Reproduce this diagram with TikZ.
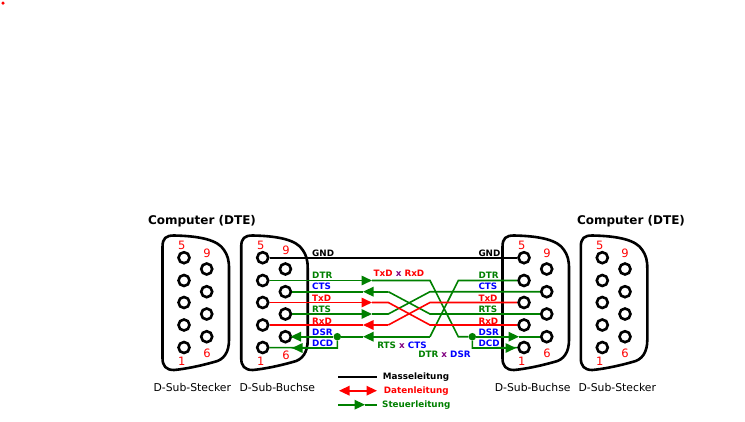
\documentclass[tikz,border=0pt]{standalone}
\usepackage{fontspec}
\setmainfont{DejaVu Sans}
\usetikzlibrary{arrows.meta, positioning, calc}
\definecolor{ctlgreen}{RGB}{0,128,0}
\definecolor{xpurple}{RGB}{128,0,128}
\tikzset{
    pinhole/.style={circle, draw=black, fill=white, line width=2.6pt, minimum size=11pt, inner sep=0pt},
    shell/.style={draw=black, line width=2.6pt, line join=round},
    pinnum/.style={text=red, font=\fontsize{11.5}{13}\selectfont, inner sep=0pt},
    sig/.style={font=\bfseries\fontsize{8.8}{10}\selectfont, inner sep=0pt},
    title/.style={font=\bfseries\fontsize{12}{14}\selectfont, inner sep=0pt},
    captext/.style={font=\fontsize{10.8}{12}\selectfont, inner sep=0pt},
    ground/.style={draw=black, line width=1.6pt},
    ctl/.style={draw=ctlgreen, line width=1.6pt},
    dat/.style={draw=red, line width=1.6pt},
    tipctl/.style={ctl, -{Triangle[length=10.5pt,width=9.5pt,fill=ctlgreen]}},
    tipdat/.style={dat, -{Triangle[length=10.5pt,width=9.5pt,fill=red]}},
    junction/.style={circle, fill=ctlgreen, minimum size=7.5pt, inner sep=0pt}
}
\begin{document}
\begin{tikzpicture}[x=1pt, y=-1pt]
    \useasboundingbox (0,0) rectangle (745,421);
    \node[circle, fill=red, minimum size=3.5pt, inner sep=0pt] (speck) at (3,3) {};

    % the four connector shells
    \foreach \c/\dx in {a/0, b/78.7, c/340, d/418.3} {
        \begin{scope}[xshift=\dx]
            \draw[shell] (162.5,247) .. controls (162.5,238) and (166,235.5) .. (174,235.5)
                .. controls (200,236) and (218,240) .. (224,250)
                .. controls (227.5,255) and (229,260) .. (229,268)
                -- (229,340)
                .. controls (229,352) and (224,360) .. (214,362)
                .. controls (200,366) and (185,369) .. (174,370)
                .. controls (166,370) and (162.5,366) .. (162.5,358) -- cycle;
        \end{scope}
    }

    % pins, left row 5..1 and right row 9..6
    \foreach \c/\dx in {a/0, b/78.7, c/340, d/418.3} {
        \foreach \n/\y in {5/257.7, 4/280.5, 3/302.5, 2/325, 1/347.5}
            \node[pinhole] (\c\n) at (184+\dx,\y) {};
        \foreach \n/\y in {9/269, 8/291.7, 7/314, 6/336.7}
            \node[pinhole] (\c\n) at (206.7+\dx,\y) {};
    }

    % pin numbers
    \foreach \c/\dx/\ytop/\ybot in {a/0/253.7/353, b/79/250.7/355.5, c/340/253.7/353, d/418/253.7/353} {
        \node[pinnum] (\c num5) at (181.7+\dx,245) {5};
        \node[pinnum] (\c num1) at (181.7+\dx,361) {1};
        \node[pinnum] (\c num9) at (207+\dx,\ytop) {9};
        \node[pinnum] (\c num6) at (207+\dx,\ybot) {6};
    }

    % bend points of the crossed wires
    \coordinate (dtrA) at (372,280.5);
    \coordinate (dtrB) at (430,280.5);
    \coordinate (dtrC) at (458.3,336.7);
    \coordinate (dsrA) at (363,336.7);
    \coordinate (dsrB) at (430,336.7);
    \coordinate (dsrC) at (458.3,280.5);
    \coordinate (dsrD) at (290.5,336.7);
    \coordinate (dcdD) at (292,348);
    \coordinate (ctsA) at (363,291.7);
    \coordinate (ctsB) at (388.3,291.7);
    \coordinate (ctsC) at (430,314);
    \coordinate (rtsA) at (372,314);
    \coordinate (rtsB) at (388.3,314);
    \coordinate (rtsC) at (430,291.7);
    \coordinate (txdA) at (372,302.5);
    \coordinate (txdB) at (388.3,302.5);
    \coordinate (txdC) at (430,325);
    \coordinate (rxdA) at (363,325);
    \coordinate (rxdB) at (388.3,325);
    \coordinate (rxdC) at (430,302.5);
    \coordinate (outR) at (519,336.7);
    \coordinate (outD) at (516,348);

    \node[junction] (jleft) at (337.3,336.7) {};
    \node[junction] (jright) at (472.3,336.7) {};
    \coordinate (jleftD) at (337.3,348);
    \coordinate (jrightD) at (472.3,348);

    % wires
    \draw[ground] (b5) -- (c5);
    \draw[tipctl] (b4) -- (dtrA);
    \draw[ctl] (dtrA) -- (dtrB) -- (dtrC) -- (jright);
    \draw[tipctl] (jright) -- (outR);
    \draw[ctl] (outR) -- (c6);
    \draw[ctl] (jright) -- (jrightD) -- (c1);
    \draw[tipctl] (jrightD) -- (outD);
    \draw[ctl] (c4) -- (dsrC) -- (dsrB);
    \draw[tipctl] (dsrB) -- (dsrA);
    \draw[ctl] (dsrA) -- (jleft) -- (b6);
    \draw[tipctl] (jleft) -- (dsrD);
    \draw[ctl] (jleft) -- (jleftD) -- (b1);
    \draw[tipctl] (jleftD) -- (dcdD);
    \draw[tipctl] (ctsB) -- (ctsA);
    \draw[ctl] (ctsA) -- (b8);
    \draw[ctl] (ctsB) -- (ctsC) -- (c7);
    \draw[tipctl] (b7) -- (rtsA);
    \draw[ctl] (rtsA) -- (rtsB) -- (rtsC) -- (c8);
    \draw[tipdat] (b3) -- (txdA);
    \draw[dat] (txdA) -- (txdB) -- (txdC) -- (c2);
    \draw[tipdat] (rxdB) -- (rxdA);
    \draw[dat] (rxdA) -- (b2);
    \draw[dat] (rxdB) -- (rxdC) -- (c3);

    % signal names
    \foreach \s/\y/\col in {GND/253/black, DTR/275.4/ctlgreen, CTS/286.7/blue, TxD/298.2/red, RTS/309.7/ctlgreen, RxD/321.2/red, DSR/332.2/blue, DCD/343.7/blue} {
        \node[sig, text=\col, anchor=west] (l\s) at (312,\y) {\s};
        \node[sig, text=\col, anchor=west] (r\s) at (478.3,\y) {\s};
    }

    \node[sig] (xtxd) at (399,273) {\textcolor{red}{TxD} \textcolor{xpurple}{x} \textcolor{red}{RxD}};
    \node[sig] (xrts) at (402,345.7) {\textcolor{ctlgreen}{RTS} \textcolor{xpurple}{x} \textcolor{blue}{CTS}};
    \node[sig] (xdtr) at (444.5,354.7) {\textcolor{ctlgreen}{DTR} \textcolor{xpurple}{x} \textcolor{blue}{DSR}};

    % headings and captions
    \node[title] (ttlL) at (202,221) {Computer (DTE)};
    \node[title] (ttlR) at (631,221) {Computer (DTE)};
    \node[captext] (capA) at (192.3,387) {D-Sub-Stecker};
    \node[captext] (capB) at (277.3,387) {D-Sub-Buchse};
    \node[captext] (capC) at (532.7,387) {D-Sub-Buchse};
    \node[captext] (capD) at (617.3,387) {D-Sub-Stecker};

    % legend
    \coordinate (lgAa) at (338,376.7);
    \coordinate (lgAb) at (377,376.7);
    \coordinate (lgBa) at (339,390.7);
    \coordinate (lgBb) at (377,390.7);
    \coordinate (lgBm) at (358,390.7);
    \coordinate (lgCa) at (338,404.7);
    \coordinate (lgCb) at (377,404.7);
    \coordinate (lgCm) at (365,404.7);
    \draw[ground] (lgAa) -- (lgAb);
    \draw[tipdat] (lgBm) -- (lgBa);
    \draw[tipdat] (lgBm) -- (lgBb);
    \draw[tipctl] (lgCa) -- (lgCm);
    \draw[ctl] (lgCm) -- (lgCb);
    \node[sig, anchor=west] (lgA) at (382.7,377) {Masseleitung};
    \node[sig, anchor=west, text=red] (lgB) at (383.7,391.5) {Datenleitung};
    \node[sig, anchor=west, text=ctlgreen] (lgC) at (382,405) {Steuerleitung};
\end{tikzpicture}
\end{document}
